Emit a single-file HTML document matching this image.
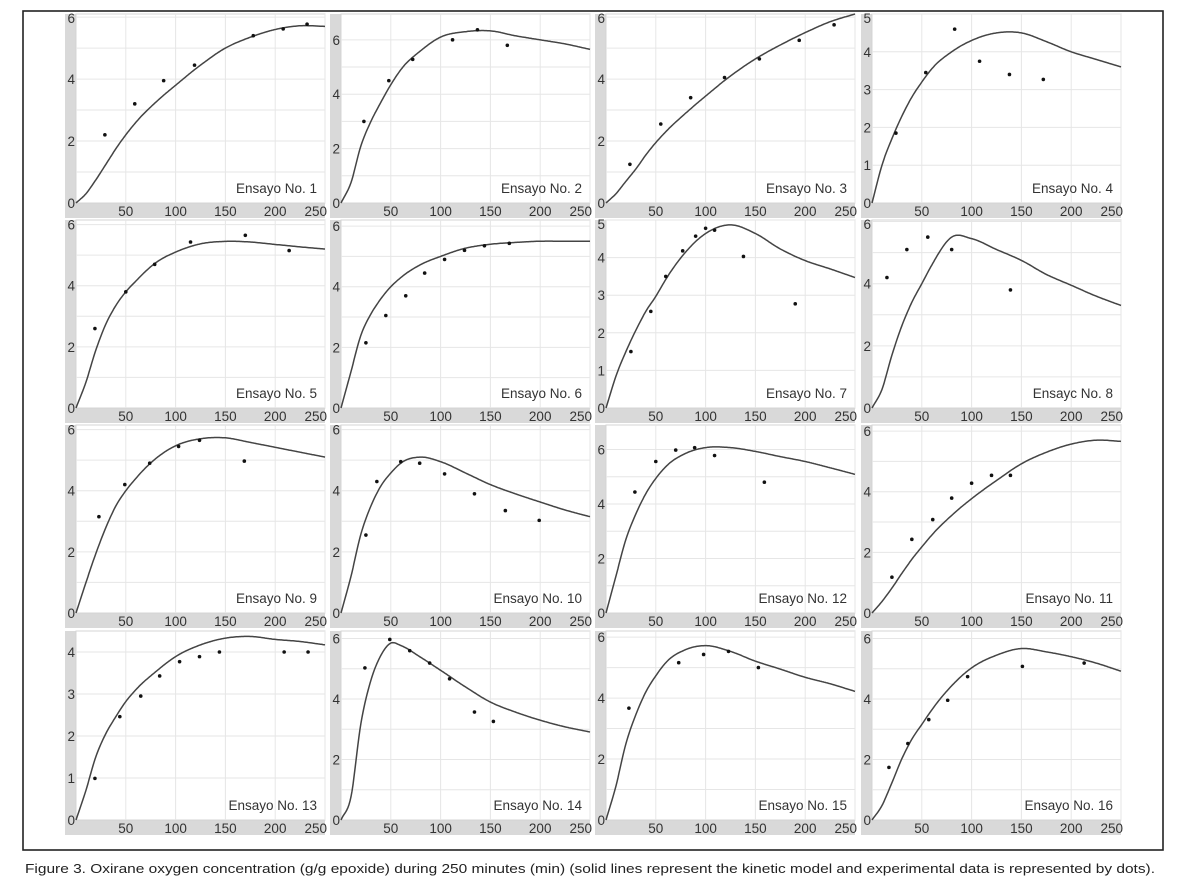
<!DOCTYPE html>
<html><head><meta charset="utf-8"><style>
html,body{margin:0;padding:0;background:#fff;}
svg{display:block;font-family:"Liberation Sans",sans-serif;}
</style></head><body>
<svg id="fig" width="1193" height="887" viewBox="0 0 1193 887" xmlns="http://www.w3.org/2000/svg">
<rect x="23" y="11" width="1140" height="839" fill="none" stroke="#222" stroke-width="1.6"/>
<g id="panels"></g>
<text x="25" y="873" font-size="12.5" fill="#222" textLength="1130" lengthAdjust="spacingAndGlyphs">Figure 3. Oxirane oxygen concentration (g/g epoxide) during 250 minutes (min) (solid lines represent the kinetic model and experimental data is represented by dots).</text>
</svg>
<script>
const curveX = [0,10,20,30,40,50,60,80,100,125,150,175,200,225,250];
const titles = ["Ensayo No. 1","Ensayo No. 2","Ensayo No. 3","Ensayo No. 4","Ensayo No. 5","Ensayo No. 6","Ensayo No. 7","Ensayc No. 8","Ensayo No. 9","Ensayo No. 10","Ensayo No. 12","Ensayo No. 11","Ensayo No. 13","Ensayo No. 14","Ensayo No. 15","Ensayo No. 16"];
const yMax = [6.1,6.95,6.1,5.0,6.15,6.2,5.0,6.05,6.15,6.15,6.9,6.2,4.5,6.25,6.2,6.25];
const yTickStep = [2,2,2,1,2,2,1,2,2,2,2,2,1,2,2,2];
const xTicks = [50,100,150,200,250];
const curves = [
 [0,0.3,0.75,1.25,1.75,2.2,2.6,3.25,3.8,4.45,5.0,5.35,5.6,5.72,5.7],
 [0,0.75,2.1,3.0,3.7,4.35,4.9,5.6,6.1,6.3,6.33,6.15,6.0,5.85,5.65],
 [0,0.3,0.7,1.1,1.55,1.95,2.3,2.9,3.45,4.1,4.65,5.1,5.5,5.85,6.1],
 [0,1.0,1.7,2.3,2.8,3.2,3.55,4.0,4.3,4.5,4.5,4.27,4.0,3.8,3.6],
 [0,0.85,1.9,2.75,3.35,3.8,4.15,4.75,5.1,5.37,5.45,5.43,5.35,5.27,5.2],
 [0,1.2,2.4,3.1,3.6,4.0,4.3,4.73,5.0,5.27,5.4,5.46,5.5,5.5,5.5],
 [0,0.85,1.5,2.07,2.57,2.97,3.42,4.15,4.64,4.87,4.64,4.23,3.92,3.7,3.47],
 [0,0.6,1.7,2.65,3.4,4.0,4.6,5.5,5.45,5.1,4.75,4.3,3.95,3.6,3.3],
 [0,1.0,1.95,2.8,3.5,4.0,4.4,5.05,5.47,5.7,5.73,5.58,5.42,5.26,5.1],
 [0,1.2,2.58,3.5,4.15,4.58,4.9,5.1,4.95,4.58,4.2,3.9,3.63,3.37,3.15],
 [0,1.36,2.7,3.64,4.38,4.94,5.37,5.86,6.07,6.07,5.93,5.74,5.56,5.33,5.09],
 [0,0.38,0.82,1.31,1.77,2.18,2.57,3.22,3.77,4.37,4.92,5.3,5.57,5.7,5.66],
 [0,0.71,1.51,2.06,2.46,2.82,3.1,3.53,3.89,4.17,4.33,4.37,4.3,4.25,4.17],
 [0,0.77,3.19,4.62,5.44,5.85,5.77,5.38,4.95,4.4,3.9,3.57,3.3,3.08,2.91],
 [0,1.12,2.5,3.46,4.2,4.73,5.16,5.59,5.72,5.53,5.21,4.95,4.68,4.47,4.22],
 [0,0.48,1.23,2.03,2.67,3.16,3.64,4.44,5.03,5.45,5.67,5.56,5.4,5.19,4.92]
];
const dotX = [
 [29,59,88,119,178,208,232],
 [23,48,72,112,137,167],
 [24,55,85,119,154,194,229],
 [24,54,83,108,138,172],
 [19,50,79,115,170,214],
 [25,45,65,84,104,124,144,169],
 [25,45,60,77,90,100,109,138,190],
 [15,35,56,80,139],
 [23,49,74,103,124,169],
 [25,36,60,79,104,134,165,199],
 [29,50,70,89,109,159],
 [20,40,61,80,100,120,139],
 [19,44,65,84,104,124,144,209,233],
 [24,49,69,89,109,134,153],
 [23,73,98,123,153],
 [17,36,57,76,96,151,213]
];
const dotY = [
 [2.2,3.2,3.95,4.45,5.4,5.62,5.77],
 [3.0,4.5,5.28,6.0,6.37,5.8],
 [1.25,2.55,3.4,4.05,4.65,5.25,5.75],
 [1.85,3.45,4.6,3.75,3.4,3.27],
 [2.6,3.8,4.7,5.43,5.65,5.15],
 [2.15,3.05,3.7,4.45,4.9,5.2,5.35,5.43],
 [1.5,2.57,3.5,4.18,4.57,4.78,4.73,4.03,2.77],
 [4.2,5.1,5.5,5.1,3.8],
 [3.15,4.2,4.9,5.45,5.65,4.97],
 [2.55,4.3,4.95,4.9,4.55,3.9,3.35,3.03],
 [4.44,5.56,5.98,6.07,5.78,4.8],
 [1.18,2.43,3.08,3.79,4.28,4.54,4.54],
 [0.99,2.46,2.95,3.43,3.77,3.89,4.0,4.0,4.0],
 [5.03,5.97,5.6,5.19,4.67,3.57,3.26],
 [3.67,5.16,5.43,5.53,5.0],
 [1.74,2.53,3.32,3.96,4.74,5.08,5.19]
];
const colLeft = [76,341,606,872];
const rowTop = [14,220,425,631];
const rowBottom = [203,408,613,820];
const plotW = 249;
const NS = "http://www.w3.org/2000/svg";
const root = document.getElementById('panels');
function mk(tag, attrs, parent){const e=document.createElementNS(NS,tag);for(const k in attrs)e.setAttribute(k,attrs[k]);parent.appendChild(e);return e;}
function hermite(xs, ys){
  const n=xs.length, m=new Array(n);
  for(let i=0;i<n;i++){
    if(i===0) m[i]=(ys[1]-ys[0])/(xs[1]-xs[0]);
    else if(i===n-1) m[i]=(ys[i]-ys[i-1])/(xs[i]-xs[i-1]);
    else{
      const h0=xs[i]-xs[i-1], h1=xs[i+1]-xs[i];
      const d0=(ys[i]-ys[i-1])/h0, d1=(ys[i+1]-ys[i])/h1;
      m[i]=(d0*h1+d1*h0)/(h0+h1);
    }
  }
  const out=[];
  for(let i=0;i<n-1;i++){
    const h=xs[i+1]-xs[i];
    for(let s=0;s<h;s+=1){
      const t=s/h,t2=t*t,t3=t2*t;
      const y=(2*t3-3*t2+1)*ys[i]+(t3-2*t2+t)*h*m[i]+(-2*t3+3*t2)*ys[i+1]+(t3-t2)*h*m[i+1];
      out.push([xs[i]+s,y]);
    }
  }
  out.push([xs[n-1],ys[n-1]]);
  return out;
}
for(let p=0;p<16;p++){
  const r=Math.floor(p/4), c=p%4;
  const L=colLeft[c], T=rowTop[r], B=rowBottom[r], R=L+plotW;
  const sx=v=>L+v/250*plotW;
  const sy=v=>B-v/yMax[p]*(B-T);
  const g=mk('g',{},root);
  
  
  const ls=mk('rect',{x:L-11,y:T,width:11,height:B-T+15,fill:'#d9d9d9'},g);
  
  
  const bs=mk('rect',{x:L-11,y:B,width:plotW+11,height:15,fill:'#d9d9d9'},g);
  
  
  const pa=mk('rect',{x:L,y:T,width:plotW,height:B-T,fill:'#fff',stroke:'#d4d4d4','stroke-width':1},g);
  
  
  for(const xv of xTicks){
    const gl=mk('line',{x1:sx(xv),x2:sx(xv),y1:T,y2:B,stroke:'#e6e6e6','stroke-width':1},g);
    
    
    const t=mk('text',{x:xv===250?R+2:sx(xv),y:B+13,'font-size':13.5,fill:'#333','text-anchor':xv===250?'end':'middle'},g);
    t.textContent=xv;
    
    
  }
  for(let yv=1;yv<=Math.floor(yMax[p]);yv++){
    const gl=mk('line',{x1:L,x2:R,y1:sy(yv),y2:sy(yv),stroke:'#e6e6e6','stroke-width':1},g);
    
    
  }
  for(let yv=0;yv<=yMax[p]+0.001;yv+=yTickStep[p]){
    const t=mk('text',{x:L-1,y:Math.max(sy(yv)+5,T+9),'font-size':13.5,fill:'#333','text-anchor':'end'},g);
    t.textContent=yv;
    
    
  }
  const pts=hermite(curveX,curves[p]);
  const d='M'+pts.map(q=>sx(q[0]).toFixed(1)+','+sy(q[1]).toFixed(1)).join(' L');
  const path=mk('path',{d:d,fill:'none',stroke:'#444','stroke-width':1.5,'stroke-linejoin':'round'},g);
  
  
  for(let i=0;i<dotX[p].length;i++){
    const dot=mk('circle',{cx:sx(dotX[p][i]),cy:sy(dotY[p][i]),r:1.8,fill:'#111'},g);
    
    
  }
  const tt=mk('text',{x:R-8,y:B-10,'font-size':13.5,fill:'#333','text-anchor':'end'},g);
  tt.textContent=titles[p];
  
  
}
</script>
</body></html>
